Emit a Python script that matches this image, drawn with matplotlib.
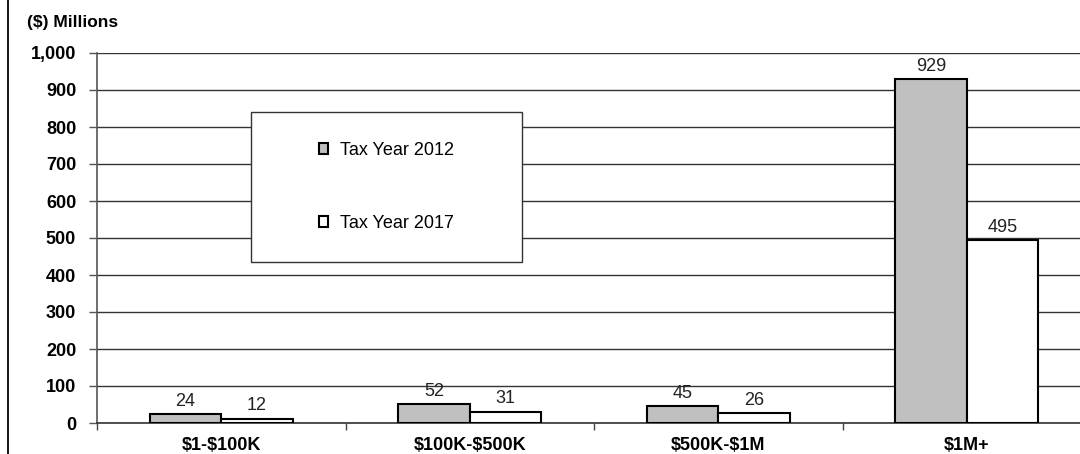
import matplotlib
matplotlib.use("Agg")
import matplotlib.pyplot as plt
from matplotlib.patches import Patch, Rectangle
from matplotlib.lines import Line2D
import numpy as np

plt.rcParams['font.family'] = ['Liberation Sans', 'DejaVu Sans']
plt.rcParams['text.parse_math'] = False

categories = ["$1-$100K", "$100K-$500K", "$500K-$1M", "$1M+"]
series_names = ["Tax Year 2012", "Tax Year 2017"]
values_2012 = [24, 52, 45, 929]
values_2017 = [12, 31, 26, 495]
yticks = [0, 100, 200, 300, 400, 500, 600, 700, 800, 900, 1000]
ytick_labels = ["0", "100", "200", "300", "400", "500", "600", "700", "800", "900", "1,000"]

W, H = 1080, 454
fig = plt.figure(figsize=(W / 100, H / 100), dpi=100)
left, right, top, bottom = 97, 1091, 53, 423
ax = fig.add_axes([left / W, 1 - bottom / H, (right - left) / W, (bottom - top) / H])

x = np.arange(len(categories))
bw = 0.288
b1 = ax.bar(x - bw / 2, values_2012, bw, color="#c0c0c0", edgecolor="black", linewidth=1.5, zorder=3)
b2 = ax.bar(x + bw / 2, values_2017, bw, color="white", edgecolor="black", linewidth=1.5, zorder=3)

for bars, vals in ((b1, values_2012), (b2, values_2017)):
    for rect, v in zip(bars, vals):
        ax.annotate(f"{v}", (rect.get_x() + rect.get_width() / 2, rect.get_height()),
                    xytext=(0, 3), textcoords="offset points", ha="center", va="bottom",
                    fontsize=13, color="#222222")

ax.set_xlim(-0.5, len(categories) - 0.5)
ax.set_ylim(0, 1000)
ax.set_yticks(yticks)
ax.set_yticklabels(ytick_labels, fontsize=13, fontweight="bold")
ax.set_xticks(x)
ax.set_xticklabels(categories, fontsize=13, fontweight="bold")
ax.set_xticks(np.arange(len(categories) + 1) - 0.5, minor=True)
ax.tick_params(axis="x", which="major", length=0, pad=10)
ax.tick_params(axis="x", which="minor", length=5, width=1, color="#444444", direction="out")
ax.tick_params(axis="y", length=6, width=1, color="#555555", direction="out", pad=9)
ax.grid(axis="y", color="#333333", linewidth=1, zorder=0)
ax.set_axisbelow(True)
for s in ("top", "right"):
    ax.spines[s].set_visible(False)
ax.spines["left"].set_color("#555555")
ax.spines["left"].set_linewidth(1.2)
ax.spines["bottom"].set_color("#333333")
ax.spines["bottom"].set_linewidth(1.2)

fig.text(27 / W, 1 - 23 / H, "($) Millions", fontsize=12.5, fontweight="bold", va="center", ha="left")

# frame line at left of the chart area
fig.add_artist(Line2D([7.5 / W, 7.5 / W], [0, 1], color="black", linewidth=1.3))

# legend box
lx0, ly0, lx1, ly1 = 251, 112, 522, 262
fig.add_artist(Rectangle((lx0 / W, 1 - ly1 / H), (lx1 - lx0) / W, (ly1 - ly0) / H,
                         facecolor="white", edgecolor="#333333", linewidth=1, zorder=5))
handles = [Patch(facecolor="#c0c0c0", edgecolor="black", linewidth=1.5),
           Patch(facecolor="white", edgecolor="black", linewidth=1.5)]
leg = fig.legend(handles, series_names, loc="center",
                 bbox_to_anchor=((lx0 + lx1) / 2 / W, 1 - (ly0 + ly1) / 2 / H),
                 frameon=False, fontsize=13, handlelength=0.5, handleheight=0.5,
                 handletextpad=0.7, labelspacing=3.1)
leg.set_zorder(6)

fig.savefig("out.png", dpi=100)
